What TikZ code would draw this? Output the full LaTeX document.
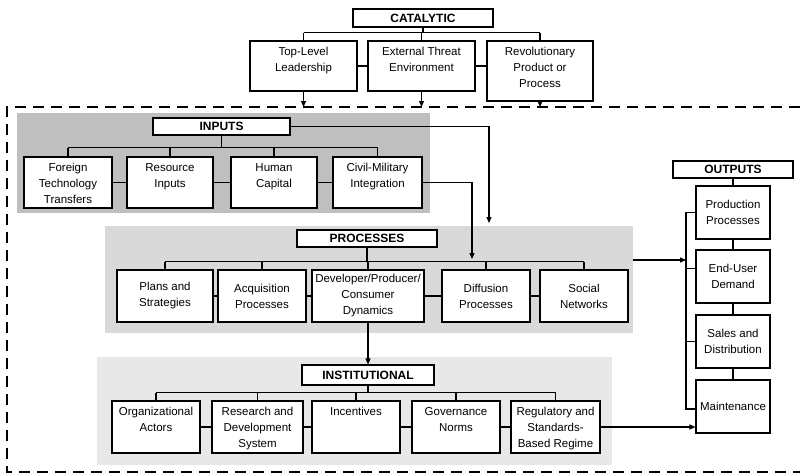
\documentclass[tikz,border=0pt]{standalone}
\usepackage{fontspec}
\setmainfont{Liberation Sans}
\usepackage{tikz}
\usetikzlibrary{arrows.meta,calc}
\definecolor{gdark}{RGB}{191,191,191}
\definecolor{gmid}{RGB}{217,217,217}
\definecolor{glight}{RGB}{232,232,232}
\newcommand\tcell[1]{\begin{tabular}[t]{@{}c@{}}#1\end{tabular}}
\tikzset{
  frame/.style  ={draw, dash pattern=on 11pt off 7pt, line width=1.2pt},
  zone/.style   ={rectangle, inner sep=0pt},
  head/.style   ={rectangle, draw, line width=1.1pt, fill=white, inner sep=0pt,
                  font=\bfseries\fontsize{12}{14}\selectfont},
  cell/.style   ={rectangle, draw, line width=1.1pt, fill=white,
                  inner xsep=2pt, inner ysep=0pt, font=\fontsize{11.5}{16}\selectfont},
  item/.style   ={cell, align=center},
  topitem/.style={cell, inner ysep=3pt, text height=11pt, text depth=#1},
  link/.style   ={line width=1.1pt},
  ar/.style     ={-{Triangle[length=6pt,width=5pt]}, line width=1.1pt}
}
\begin{document}
\begin{tikzpicture}[x=1pt,y=-1pt]
\useasboundingbox (0,0) rectangle (800,475);

% catalytic
\node[head, minimum width=140, minimum height=18] (cat) at (423,18) {CATALYTIC};
\node[topitem=33pt, minimum width=107, minimum height=50] (lead) at (303.5,66) {\tcell{Top-Level\\Leadership}};
\node[topitem=33pt, minimum width=107, minimum height=50] (threat) at (421.5,66) {\tcell{External Threat\\Environment}};
\node[topitem=43pt, minimum width=106, minimum height=60] (rev) at (540,71) {\tcell{Revolutionary\\Product or\\Process}};
\draw[link] (cat.south) -- ++(0,5) coordinate (cbus);
\draw[link] (cbus -| lead.north) -- (cbus -| rev.north);
\foreach \n in {lead,threat,rev}{\draw[link] (cbus -| \n.north) -- (\n.north);}
\draw[link] (lead.east) -- (threat.west);
\draw[link] (threat.east) -- (threat.east -| rev.west);

\draw[frame] (800,107) -| (7,472) -- (800,472);
\coordinate (ftop) at (0,107);
\foreach \n in {lead,threat,rev}{\draw[ar] (\n.south) -- (\n.south |- ftop);}

% inputs
\node[zone, fill=gdark, minimum width=413, minimum height=100] (inreg) at (223.5,163) {};
\node[head, minimum width=137, minimum height=17] (inputs) at (221.5,126.5) {INPUTS};
\node[topitem=34pt, minimum width=88, minimum height=51] (foreign) at (68,182.5) {\tcell{Foreign\\Technology\\Transfers}};
\node[topitem=34pt, minimum width=86, minimum height=51] (resource) at (170,182.5) {\tcell{Resource\\Inputs}};
\node[topitem=34pt, minimum width=86, minimum height=51] (human) at (274,182.5) {\tcell{Human\\Capital}};
\node[topitem=34pt, minimum width=89, minimum height=51] (civil) at (377.5,182.5) {\tcell{Civil-Military\\Integration}};
\draw[link] (inputs.south) -- ++(0,12) coordinate (ibus);
\draw[link] (ibus -| foreign.north) -- (ibus -| civil.north);
\foreach \n in {foreign,resource,human,civil}{\draw[link] (ibus -| \n.north) -- (\n.north);}
\draw[link] (foreign) -- (resource) -- (human) -- (civil);

% processes
\node[zone, fill=gmid, minimum width=528, minimum height=107] (procreg) at (369,279.5) {};
\node[head, minimum width=140, minimum height=17] (processes) at (367,238.5) {PROCESSES};
\node[item, minimum width=96, minimum height=52] (plans) at (165,296) {Plans and\\Strategies};
\node[item, minimum width=88, minimum height=52] (acq) at (262,296) {Acquisition\\Processes};
\node[item, minimum width=112, minimum height=52] (dev) at (368,296) {Developer/Producer/\\Consumer\\Dynamics};
\node[item, minimum width=88, minimum height=52] (diff) at (486,296) {Diffusion\\Processes};
\node[item, minimum width=88, minimum height=52] (social) at (584,296) {Social\\Networks};
\draw[link] (processes.south) -- ++(0,14) coordinate (pbus);
\draw[link] (pbus -| plans.north) -- (pbus -| social.north);
\foreach \n in {plans,acq,dev,diff,social}{\draw[link] (pbus -| \n.north) -- (\n.north);}
\draw[link] (plans) -- (acq) -- (dev) -- (diff) -- (social);

\coordinate (pin) at (489,223);
\coordinate (cin) at (472,259);
\draw[ar] (inputs.east) -| (pin);
\draw[ar] (civil.east) -| (cin);

% institutional
\node[zone, fill=glight, minimum width=515, minimum height=108] (instreg) at (354.5,411) {};
\node[head, minimum width=132, minimum height=20] (inst) at (368,375) {INSTITUTIONAL};
\node[topitem=35pt, minimum width=88, minimum height=52] (org) at (156,427) {\tcell{Organizational\\Actors}};
\node[topitem=35pt, minimum width=91, minimum height=52] (rd) at (257.5,427) {\tcell{Research and\\Development\\System}};
\node[topitem=35pt, minimum width=88, minimum height=52] (inc) at (356,427) {\tcell{Incentives}};
\node[topitem=35pt, minimum width=88, minimum height=52] (gov) at (456,427) {\tcell{Governance\\Norms}};
\node[topitem=35pt, minimum width=89, minimum height=52] (reg) at (555.5,427) {\tcell{Regulatory and\\Standards-\\Based Regime}};
\draw[link] (inst.south) -- ++(0,7) coordinate (sbus);
\draw[link] (sbus -| org.north) -- (sbus -| reg.north);
\foreach \n in {org,rd,inc,gov,reg}{\draw[link] (sbus -| \n.north) -- (\n.north);}
\draw[link] (org) -- (rd) -- (inc) -- (gov) -- (reg);
\draw[ar] (dev.south) -- (inst.north);

% outputs
\node[head, minimum width=120, minimum height=17] (outputs) at (733,169.5) {OUTPUTS};
\node[item, minimum width=74, minimum height=53] (prod) at (733,212.5) {Production\\Processes};
\node[item, minimum width=74, minimum height=53] (eu) at (733,276.5) {End-User\\Demand};
\node[item, minimum width=74, minimum height=53] (sales) at (733,341.5) {Sales and\\Distribution};
\node[item, minimum width=74, minimum height=53] (maint) at (733,406.5) {Maintenance};
\draw[link] (outputs) -- (prod) -- (eu) -- (sales) -- (maint);
\coordinate (obr) at (686,260);
\draw[link] (prod.west) -| (obr) |- ([yshift=-2.5pt]maint.west);
\draw[link] ([yshift=8pt]eu.west) -- ([yshift=8pt]eu.west -| obr);
\draw[link] (sales.west) -- (sales.west -| obr);
\draw[ar] (procreg.east |- obr) -- (obr);
\draw[ar] (reg.east) -- (reg.east -| maint.west);
\end{tikzpicture}
\end{document}
